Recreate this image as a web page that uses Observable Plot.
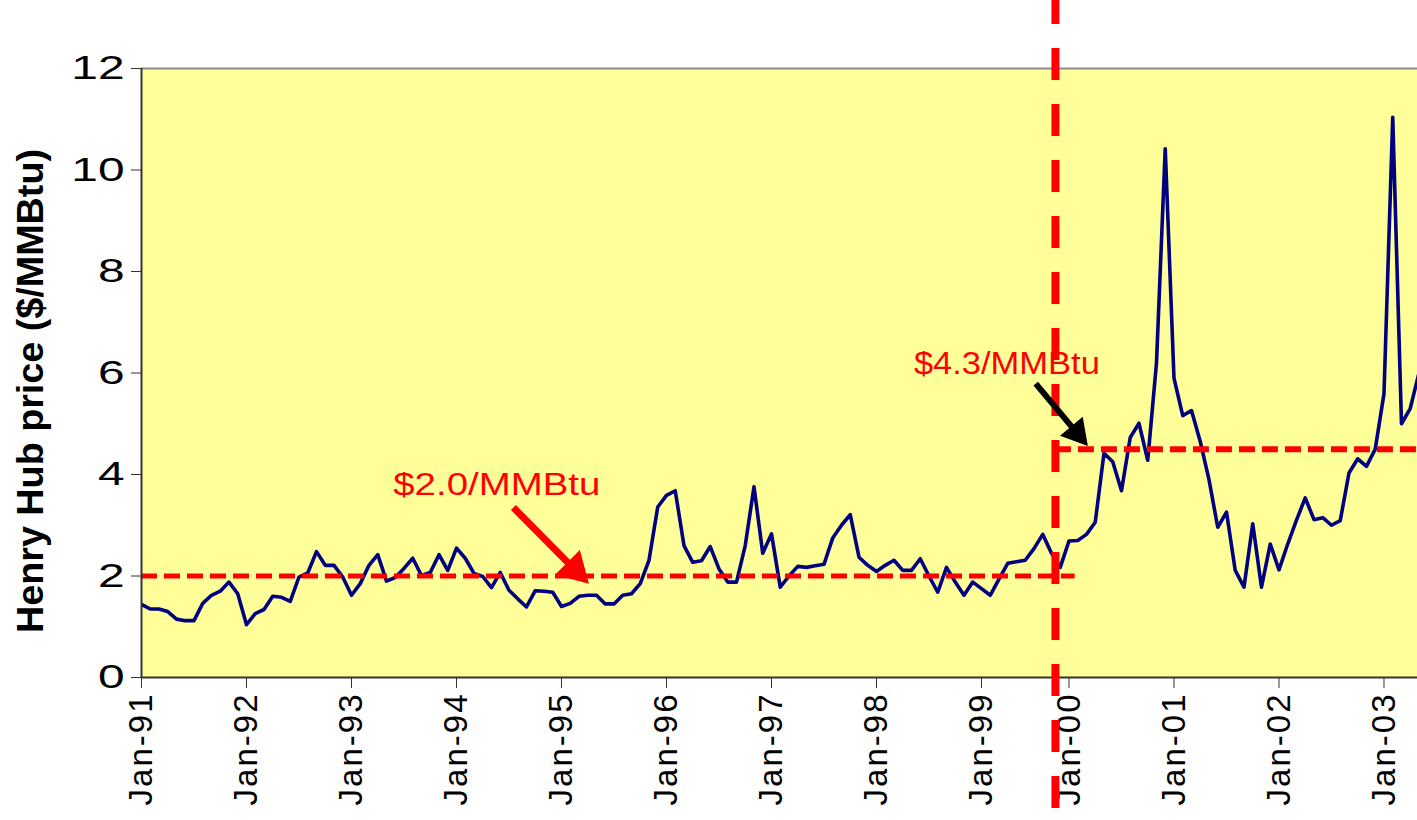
<!DOCTYPE html>
<html><head><meta charset="utf-8">
<script src="https://cdn.jsdelivr.net/npm/d3@7"></script>
<script src="https://cdn.jsdelivr.net/npm/@observablehq/plot@0.6"></script>
<style>
body{margin:0;background:#fff;}
#chart svg{display:block;}
</style></head><body><div id="chart"></div>
<script>
// Henry Hub price, one value per category (1999 has only 10 categories on the axis)
const prices = [
 1.44,1.35,1.35,1.30,1.15,1.12,1.12,1.46,1.62,1.70,1.88,1.65,
 1.04,1.26,1.34,1.60,1.58,1.50,1.98,2.06,2.48,2.21,2.21,1.98,
 1.62,1.85,2.21,2.42,1.90,1.97,2.15,2.35,2.01,2.07,2.42,2.11,
 2.55,2.35,2.05,1.99,1.77,2.07,1.72,1.55,1.39,1.71,1.70,1.68,
 1.40,1.46,1.60,1.62,1.62,1.45,1.45,1.62,1.65,1.85,2.31,3.36,
 3.59,3.68,2.60,2.27,2.30,2.58,2.14,1.88,1.88,2.60,3.76,2.45,
 2.83,1.78,2.00,2.19,2.17,2.20,2.23,2.75,3.00,3.21,2.37,2.21,
 2.09,2.21,2.31,2.11,2.11,2.34,2.00,1.68,2.17,1.88,1.62,1.88,
 1.75,1.62,1.94,2.25,2.28,2.31,2.54,2.82,2.45,2.17,
 2.69,2.70,2.82,3.06,4.42,4.25,3.68,4.73,5.01,4.28,6.20,10.42,
 5.90,5.16,5.26,4.65,3.90,2.96,3.26,2.11,1.78,3.03,1.78,2.63,
 2.12,2.63,3.10,3.54,3.11,3.15,3.00,3.09,4.03,4.31,4.16,4.50,
 5.59,11.04,5.00,5.30,6.00
];
const tickLabels = ["Jan-91","Jan-92","Jan-93","Jan-94","Jan-95","Jan-96","Jan-97","Jan-98","Jan-99","Jan-00","Jan-01","Jan-02","Jan-03"];
const tickIndex  = [0,12,24,36,48,60,72,84,96,106,118,130,142];
const yTicks = [0,2,4,6,8,10,12];
const xEnd = 145.83;          // last visible category position
const breakIndex = 104.45;    // regime change marker
const avgBefore = 2.0, avgBeforeEnd = 106.7;
const avgAfter = 4.5;
const labelBefore = "$2.0/MMBtu", labelAfter = "$4.3/MMBtu";
const yTitle = "Henry Hub price ($/MMBtu)";
// annotation anchors in data units
const noteBefore = {x: 40.6, y: 3.80};
const noteAfter  = {x: 98.9, y: 6.17};
const arrowRed   = {x1: 42.5, y1: 3.35, x2: 49.5, y2: 2.13};
const arrowBlack = {x1: 102.2, y1: 5.79, x2: 106.9, y2: 4.82};

const series = prices.map((v, i) => ({i, v}));
const font = "'Liberation Sans', Arial, sans-serif";

const plot = Plot.plot({
  width: 1417, height: 820,
  marginLeft: 141, marginRight: 0, marginTop: 68, marginBottom: 143,
  style: {fontFamily: font, background: "#fff", color: "#000", overflow: "visible"},
  x: {domain: [0, xEnd]},
  y: {domain: [0, 12]},
  marks: [
    Plot.frame({fill: "#FFFF99", stroke: null}),
    Plot.ruleY([12], {stroke: "#8c8c8c", strokeWidth: 2}),
    Plot.lineY(series, {x: "i", y: "v", stroke: "#000080", strokeWidth: 3.6, clip: true}),
    Plot.ruleY([avgBefore], {x1: 0, x2: avgBeforeEnd, stroke: "#ff0000", strokeWidth: 5, strokeDasharray: "16,7"}),
    Plot.ruleY([avgAfter], {x1: breakIndex, x2: xEnd, stroke: "#ff0000", strokeWidth: 6, strokeDasharray: "16,7"}),
    Plot.ruleX([0], {stroke: "#333", strokeWidth: 2}),
    Plot.ruleY([0], {stroke: "#333", strokeWidth: 2}),
    Plot.axisY({ticks: yTicks, tickSize: 10, tickPadding: 7, fontSize: 33, label: null, stroke: "#333"}),
    Plot.axisX({ticks: tickIndex, tickFormat: d => tickLabels[tickIndex.indexOf(d)], tickRotate: -90,
      tickSize: 11, tickPadding: 4, fontSize: 33, label: null, stroke: "#333"}),
    Plot.ruleX([breakIndex], {stroke: "#ff0000", strokeWidth: 8, strokeDasharray: "32,24", strokeDashoffset: 8,
      insetTop: -68, insetBottom: -131}),
    Plot.link([arrowRed], {x1: "x1", y1: "y1", x2: "x2", y2: "y2", stroke: "#ff0000", strokeWidth: 7}),
    Plot.dot([arrowRed], {x: "x2", y: "y2", symbol: "triangle", r: 13, fill: "#ff0000", rotate: 135}),
    Plot.link([arrowBlack], {x1: "x1", y1: "y1", x2: "x2", y2: "y2", stroke: "#000", strokeWidth: 6}),
    Plot.dot([arrowBlack], {x: "x2", y: "y2", symbol: "triangle", r: 11, fill: "#000", rotate: 140}),
    Plot.text([noteBefore], {x: "x", y: "y", text: () => labelBefore, fill: "#ff0000", fontSize: 31, textAnchor: "middle"}),
    Plot.text([noteAfter], {x: "x", y: "y", text: () => labelAfter, fill: "#ff0000", fontSize: 31, textAnchor: "middle"}),
    Plot.text([yTitle], {frameAnchor: "left", textAnchor: "middle", text: d => d, rotate: -90, dx: -110, dy: 18,
      fontSize: 36, fontWeight: "bold", fill: "#000"})
  ]
});
document.getElementById("chart").appendChild(plot);

// stretch horizontal texts to the reference widths
const widths = {"$2.0/MMBtu": 207, "$4.3/MMBtu": 186, "Henry Hub price ($/MMBtu)": 484};
d3.select(plot).selectAll("text").each(function() {
  const t = this.textContent;
  if (widths[t]) { this.setAttribute("textLength", widths[t]); this.setAttribute("lengthAdjust", "spacingAndGlyphs"); }
});
d3.select(plot).selectAll('[aria-label="y-axis tick label"] text').each(function() {
  const w = this.getComputedTextLength();
  this.setAttribute("textLength", w * 1.45);
  this.setAttribute("lengthAdjust", "spacingAndGlyphs");
});
d3.select(plot).selectAll('[aria-label="x-axis tick label"] text').attr("letter-spacing", 2);
</script></body></html>
